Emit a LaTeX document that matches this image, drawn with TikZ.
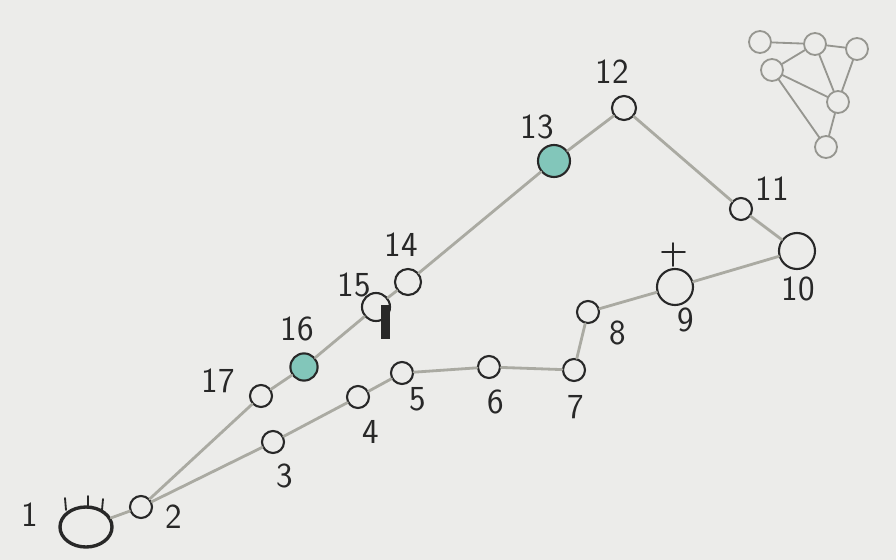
\documentclass[tikz,border=0pt]{standalone}
\usetikzlibrary{positioning,shapes.geometric}
\definecolor{paper}{RGB}{236,236,234}
\definecolor{edgegray}{RGB}{170,170,162}
\definecolor{pencil}{RGB}{40,40,40}
\definecolor{tealfill}{RGB}{130,198,186}
\definecolor{sketchgray}{RGB}{150,150,144}
\begin{document}
\begin{tikzpicture}[x=0.025cm,y=-0.025cm,line cap=round,
  vtx/.style={circle,draw=pencil,line width=1.5pt,inner sep=0pt,
   minimum size=0.55cm},
  lbl/.style={font=\sffamily\fontsize{25}{25}\selectfont,text=pencil},
  edge/.style={draw=edgegray,line width=2pt},
  mini/.style={circle,draw=sketchgray,line width=1.3pt,inner sep=0pt,
   minimum size=0.55cm}]
 \fill[paper] (0,0) rectangle (896,560);
 \useasboundingbox (0,0) rectangle (896,560);
 % main tour
 \node[ellipse,draw=pencil,line width=2.4pt,minimum width=1.3cm,
  minimum height=1cm,inner sep=0pt] (v1) at (86,527) {};
 \node[vtx] (v2) at (141,507) {};
 \node[vtx] (v3) at (273,442) {};
 \node[vtx] (v4) at (358,397) {};
 \node[vtx] (v5) at (402,373) {};
 \node[vtx] (v6) at (489,367) {};
 \node[vtx] (v7) at (574,370) {};
 \node[vtx] (v8) at (588,312) {};
 \node[vtx,minimum size=0.9cm] (v9) at (675,287) {};
 \node[vtx,minimum size=0.9cm] (v10) at (797,251) {};
 \node[vtx] (v11) at (741,209) {};
 \node[vtx,minimum size=0.6cm] (v12) at (624,108) {};
 \node[vtx,fill=tealfill,minimum size=0.8cm] (v13) at (554,161) {};
 \node[vtx,minimum size=0.65cm] (v14) at (408,282) {};
 \node[vtx,minimum size=0.7cm] (v15) at (376,307) {};
 \node[vtx,fill=tealfill,minimum size=0.68cm] (v16) at (304,367) {};
 \node[vtx] (v17) at (261,396) {};
 \draw[edge] (v1) -- (v2) -- (v3) -- (v4) -- (v5) -- (v6) -- (v7) -- (v8)
  -- (v9) -- (v10) -- (v11) -- (v12) -- (v13) -- (v14) -- (v15)
  -- (v16) -- (v17) -- (v2);
 % marks on the nodes
 \draw[pencil,line width=1.3pt] (65,498) -- (66,510) (88,496) -- (88,508)
  (103,499) -- (102,510);
 \fill[pencil] (381,305) rectangle (390,339);
 \draw[pencil,line width=1.3pt] (673,243) -- (673,266) (662,252) -- (685,252);
 % labels
 \node[lbl] (l1) at (30,515) {1};
 \node[lbl] (l2) at (174,517) {2};
 \node[lbl] (l3) at (285,476) {3};
 \node[lbl] (l4) at (371,432) {4};
 \node[lbl] (l5) at (418,399) {5};
 \node[lbl] (l6) at (496,402) {6};
 \node[lbl] (l7) at (576,407) {7};
 \node[lbl] (l8) at (618,333) {8};
 \node[lbl] (l9) at (686,320) {9};
 \node[lbl] (l10) at (798,289) {10};
 \node[lbl] (l11) at (772,189) {11};
 \node[lbl] (l12) at (612,72) {12};
 \node[lbl] (l13) at (537,127) {13};
 \node[lbl] (l14) at (401,245) {14};
 \node[lbl] (l15) at (354,285) {15};
 \node[lbl] (l16) at (297,329) {16};
 \node[lbl] (l17) at (218,381) {17};
 % small sketch, top right
 \node[mini] (ma) at (760,42) {};
 \node[mini] (mb) at (815,44) {};
 \node[mini] (mc) at (857,49) {};
 \node[mini] (md) at (772,70) {};
 \node[mini] (me) at (838,102) {};
 \node[mini] (mf) at (826,147) {};
 \draw[sketchgray,line width=1.3pt] (ma) -- (mb) -- (mc) (md) -- (mb)
  -- (me) (mc) -- (me) (md) -- (me) -- (mf) (md) -- (mf);
\end{tikzpicture}
\end{document}
